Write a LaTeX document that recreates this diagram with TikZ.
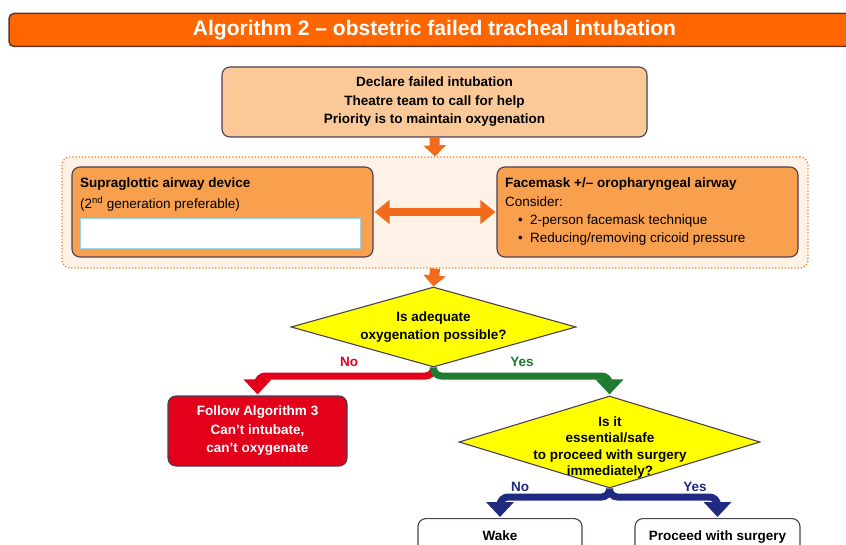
\documentclass[tikz,border=0pt]{standalone}
\usepackage{fontspec}
\setmainfont{Liberation Sans}
\usetikzlibrary{shapes.geometric,arrows.meta,calc}
\definecolor{titleorange}{HTML}{FF6600}
\definecolor{titleborder}{HTML}{5A3A30}
\definecolor{peach}{HTML}{FBC898}
\definecolor{boxorange}{HTML}{F9A04E}
\definecolor{zonefill}{HTML}{FEF1E6}
\definecolor{zoneline}{HTML}{F47A20}
\definecolor{arroworange}{HTML}{F26A1B}
\definecolor{bordergrey}{HTML}{4B3F55}
\definecolor{alarmred}{HTML}{E2001A}
\definecolor{okgreen}{HTML}{1E7B30}
\definecolor{navy}{HTML}{1F2A80}
\definecolor{qyellow}{HTML}{FFFF00}
\definecolor{paleblue}{HTML}{9DD3E8}
\tikzset{
  titlebar/.style={draw=titleborder, line width=1.5pt, fill=titleorange, rounded corners=5pt,
    minimum width=851pt, minimum height=33pt, inner sep=0pt, text=white,
    font=\bfseries\fontsize{21}{24}\selectfont},
  peachbox/.style={draw=bordergrey, line width=1.1pt, fill=peach, rounded corners=8pt, inner sep=0pt},
  orangebox/.style={draw=bordergrey, line width=1.1pt, fill=boxorange, rounded corners=8pt, inner sep=0pt},
  redbox/.style={draw=bordergrey, line width=1.1pt, fill=alarmred, rounded corners=8pt, inner sep=0pt},
  whitebox/.style={draw=bordergrey, line width=1.1pt, fill=white, rounded corners=8pt, inner sep=0pt},
  blankfield/.style={draw=paleblue, line width=1pt, fill=white, inner sep=0pt},
  zonebox/.style={draw=zoneline, line width=1.2pt, dotted, fill=zonefill, rounded corners=8pt, inner sep=0pt},
  question/.style={diamond, draw=bordergrey, line width=1.1pt, fill=qyellow, inner sep=0pt},
  txt/.style={inner sep=0pt, font=\fontsize{13.5}{16}\selectfont},
  btxt/.style={inner sep=0pt, font=\bfseries\fontsize{13.5}{16}\selectfont},
  orangearrow/.style={draw=arroworange, line width=10pt, -{Triangle[width=22pt,length=11pt]}},
  dblarrow/.style={draw=arroworange, line width=8pt, {Triangle[width=23pt,length=15pt]}-{Triangle[width=23pt,length=15pt]}},
  branch/.style={line width=7pt, rounded corners=8pt, -{Triangle[width=27pt,length=15pt]}},
}
\begin{document}
\begin{tikzpicture}[x=1pt,y=-1pt]
\useasboundingbox (0,0) rectangle (846,545);
\fill[white] (0,0) rectangle (846,545);

% title
\node[titlebar] (title) at (434.5,30) {Algorithm 2 -- obstetric failed tracheal intubation};

% first box
\node[peachbox, minimum width=425pt, minimum height=70pt, align=center,
  font=\bfseries\fontsize{13.5}{18.5}\selectfont] (declare) at (434.5,102)
  {Declare failed intubation\\Theatre team to call for help\\Priority is to maintain oxygenation};

% dotted zone
\node[zonebox, minimum width=746pt, minimum height=111pt] (zone) at (435,212.5) {};

% side boxes
\node[orangebox, minimum width=301pt, minimum height=90pt] (sad) at (222.5,212) {};
\node[orangebox, minimum width=301pt, minimum height=90pt] (fm) at (647.5,212) {};

\node[btxt, anchor=base west] (sadtitle) at (80,188) {Supraglottic airway device};
\node[txt, anchor=base west] (sadnote) at (80,209) {(2\textsuperscript{nd} generation preferable)};
\node[blankfield, minimum width=280pt, minimum height=30pt, anchor=north west] (blank) at (80,218) {};

\node[btxt, anchor=base west] (fmtitle) at (505,188) {Facemask +/-- oropharyngeal airway};
\node[txt, anchor=base west] (fmconsider) at (505,207) {Consider:};
\node[txt, anchor=base west] (bulleta) at (518,225) {•};
\node[txt, anchor=base west] (fma) at (530,225) {2-person facemask technique};
\node[txt, anchor=base west] (bulletb) at (518,243) {•};
\node[txt, anchor=base west] (fmb) at (530,243) {Reducing/removing cricoid pressure};

% questions
\node[question, minimum width=285pt, minimum height=80pt] (q1) at (433.5,327) {};
\node[btxt, align=center, font=\bfseries\fontsize{13.5}{18}\selectfont] (q1t) at (433.5,327)
  {Is adequate\\oxygenation possible?};

\node[question, minimum width=301pt, minimum height=92pt] (q2) at (609.5,442) {};
\node[btxt, align=center, font=\bfseries\fontsize{13.5}{16.3}\selectfont] (q2t) at (610,447.5)
  {Is it\\essential/safe\\to proceed with surgery\\immediately?};

% outcome boxes
\node[redbox, minimum width=179pt, minimum height=70pt, text=white, align=center,
  font=\bfseries\fontsize{13.5}{18.5}\selectfont] (alg3) at (257.5,431)
  {Follow Algorithm 3\\Can't intubate,\\can't oxygenate};

\node[whitebox, minimum width=164pt, minimum height=60pt, anchor=north] (wake) at (500,518) {};
\node[whitebox, minimum width=165pt, minimum height=60pt, anchor=north] (proceed) at (717.5,518) {};
\node[btxt, anchor=base] (waket) at (500,540.5) {Wake};
\node[btxt, anchor=base] (proceedt) at (717.5,540.5) {Proceed with surgery};

% orange arrows
\draw[orangearrow] (declare.south) -- (zone.north);
\draw[orangearrow] (zone.south) -- (q1.north);
\draw[dblarrow] ([xshift=1pt]sad.east) -- ([xshift=-1pt]fm.west);

% branches
\coordinate (bar1) at (0,376);
\coordinate (bar2) at (0,497);
\draw[branch, color=alarmred]
  (q1.south) |- (bar1 -| alg3.north) -- ([yshift=1pt]alg3.north);
\draw[branch, color=okgreen] (q1.south) |- (bar1 -| q2.north) -- ([yshift=1pt]q2.north);
\draw[branch, color=navy] (q2.south) |- (bar2 -| wake.north) -- ([yshift=1pt]wake.north);
\draw[branch, color=navy] (q2.south) |- (bar2 -| proceed.north) -- ([yshift=1pt]proceed.north);

% branch labels
\node[btxt, text=alarmred] (nol) at (349,362) {No};
\node[btxt, text=okgreen] (yesl) at (522,362) {Yes};
\node[btxt, text=navy] (no2) at (520,487) {No};
\node[btxt, text=navy] (yes2) at (695,487) {Yes};
\end{tikzpicture}
\end{document}
